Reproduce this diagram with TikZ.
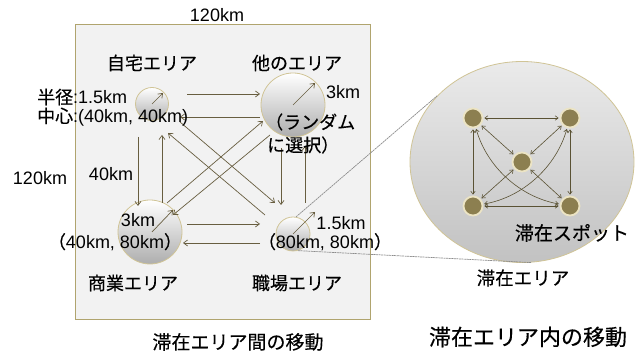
\documentclass[tikz,border=0pt]{standalone}
\usepackage{fontspec}
\setmainfont{Liberation Sans}
\newfontfamily\jp[FakeBold=0.3]{Noto Sans CJK JP}
\usetikzlibrary{arrows.meta,shapes.geometric}
\definecolor{bordertan}{RGB}{208,196,150}
\definecolor{sqborder}{RGB}{176,164,110}
\definecolor{arrowc}{RGB}{104,94,64}
\definecolor{spotfill}{RGB}{140,127,80}
\definecolor{spotring}{RGB}{236,228,196}
\definecolor{sqfill}{RGB}{242,242,242}
\definecolor{spotarrow}{RGB}{90,82,52}
\begin{document}
\begin{tikzpicture}[x=1pt,y=-1pt,
  lbl/.style={inner sep=0pt, font=\fontsize{18}{18}\selectfont},
  area/.style={circle, draw=bordertan, line width=0.8pt, top color=white, bottom color=black!32, inner sep=0pt},
  mv/.style={draw=arrowc, line width=0.7pt, -{Straight Barb[length=4pt,width=6pt]}},
  rad/.style={draw=arrowc, line width=0.7pt, -{Straight Barb[length=4pt,width=6pt]}},
  spot/.style={circle, fill=spotfill, draw=spotring, line width=1.8pt, minimum size=19pt, inner sep=0pt},
  sm/.style={draw=spotarrow, line width=0.6pt, {Straight Barb[length=3pt,width=4.5pt]}-{Straight Barb[length=3pt,width=4.5pt]}, shorten <=1pt, shorten >=1pt},
  zoomline/.style={draw=black!45, line width=0.7pt, dash pattern=on 2pt off 0.6pt}
]
\path[use as bounding box] (0,0) rectangle (640,352);
\fill[white] (0,0) rectangle (640,352);

% square
\node[draw=sqborder, fill=sqfill, line width=0.8pt, minimum width=295pt, minimum height=295pt, inner sep=0pt] (sq) at (222.5,171.5) {};

% big ellipse
\node[ellipse, draw=bordertan, line width=0.8pt, top color=black!8, bottom color=black!24, minimum width=224pt, minimum height=201pt, inner sep=0pt] (big) at (522,162) {};

% area circles
\node[area, minimum size=33pt] (home) at (152,104) {};
\node[area, minimum size=64pt] (other) at (293,105) {};
\node[area, minimum size=64pt] (com) at (150,232) {};
\node[area, minimum size=34pt] (work) at (293,234) {};

% zoom lines
\draw[zoomline] (work.80) -- (big.142.6);
\draw[zoomline] (work.287) -- (big.275);

% coordinates for moves
\coordinate (a1s) at (187,94);  \coordinate (a1e) at (260,94);
\coordinate (a2s) at (260,117); \coordinate (a2e) at (180,117);
\coordinate (a3s) at (138,137); \coordinate (a3e) at (138,206);
\coordinate (a4s) at (162,203); \coordinate (a4e) at (162,135);
\coordinate (a5s) at (281,148); \coordinate (a5e) at (281,205);
\coordinate (a6s) at (305,203); \coordinate (a6e) at (305,146);
\coordinate (a7s) at (187,224); \coordinate (a7e) at (260,224);
\coordinate (a8s) at (260,243); \coordinate (a8e) at (183,243);
\coordinate (d1s) at (180,122); \coordinate (d1e) at (275,203);
\coordinate (d2s) at (265,215); \coordinate (d2e) at (168,133);
\coordinate (d3s) at (167,203); \coordinate (d3e) at (263,121);
\coordinate (d4s) at (270,135); \coordinate (d4e) at (173,215);
\foreach \m in {a1,a2,a3,a4,a5,a6,a7,a8,d1,d2,d3,d4}{\draw[mv] (\m s) -- (\m e);}

% radius arrows
\coordinate (rh) at (163,93);
\coordinate (ro) at (315,83);
\coordinate (rc) at (173,210);
\coordinate (rw) at (315,212);
\draw[rad] (home.center) -- (rh);
\draw[rad] (other.center) -- (ro);
\draw[rad] ([shift={(2,0)}]com.center) -- (rc);
\draw[rad] (work.center) -- (rw);

% spots
\node[spot] (tl) at (473,118) {};
\node[spot] (tr) at (570,118) {};
\node[spot] (ce) at (522,162) {};
\node[spot] (bl) at (473,206) {};
\node[spot] (br) at (570,206) {};
\draw[sm] (tl) -- (tr);
\draw[sm] (tl) -- (bl);
\draw[sm] (tr) -- (br);
\draw[sm] (bl) -- (br);
\draw[sm] (tl) -- (ce);
\draw[sm] (tr) -- (ce);
\draw[sm] (bl) -- (ce);
\draw[sm] (br) -- (ce);
\draw[sm] (tl) .. controls ([shift={(14,49)}]tl.center) and ([shift={(-50,-9)}]br.center) .. (br);
\draw[sm] (tr) .. controls ([shift={(-14,49)}]tr.center) and ([shift={(50,-9)}]bl.center) .. (bl);

% labels
\node[lbl] (t120) at (217,15) {120km};
\node[lbl] (l120) at (40,178) {120km};
\node[lbl] (lhome) at (152,63) {\jp 自宅エリア};
\node[lbl] (lother) at (297,63) {\jp 他のエリア};
\node[lbl, anchor=west] (lrad) at (37,97) {{\jp 半径}:1.5km};
\node[lbl, anchor=west] (lctr) at (37,117) {{\jp 中心}:(40km, 40km)};
\node[lbl] (lo3) at (343,92) {3km};
\node[lbl, anchor=west] (lrand1) at (265,122) {\jp （ランダム};
\node[lbl, anchor=west] (lrand2) at (267,145) {\jp に選択）};
\node[lbl] (l40) at (111,174) {40km};
\node[lbl] (lc3) at (138,220) {3km};
\node[lbl] (lcpos) at (115,242) {{\jp （}40km, 80km{\jp ）}};
\node[lbl] (lw15) at (341,223) {1.5km};
\node[lbl] (lwpos) at (325,242) {{\jp （}80km, 80km{\jp ）}};
\node[lbl] (lcom) at (133,283) {\jp 商業エリア};
\node[lbl] (lwork) at (297,283) {\jp 職場エリア};
\node[lbl, font=\fontsize{19}{19}\selectfont] (lbetween) at (238,342) {\jp 滞在エリア間の移動};
\node[lbl, font=\fontsize{19}{19}\selectfont] (lspot) at (572,233) {\jp 滞在スポット};
\node[lbl, font=\fontsize{18.5}{18.5}\selectfont] (larea) at (523,278) {\jp 滞在エリア};
\node[lbl, font=\fontsize{22}{22}\selectfont] (lwithin) at (528,337) {\jp 滞在エリア内の移動};
\end{tikzpicture}
\end{document}
